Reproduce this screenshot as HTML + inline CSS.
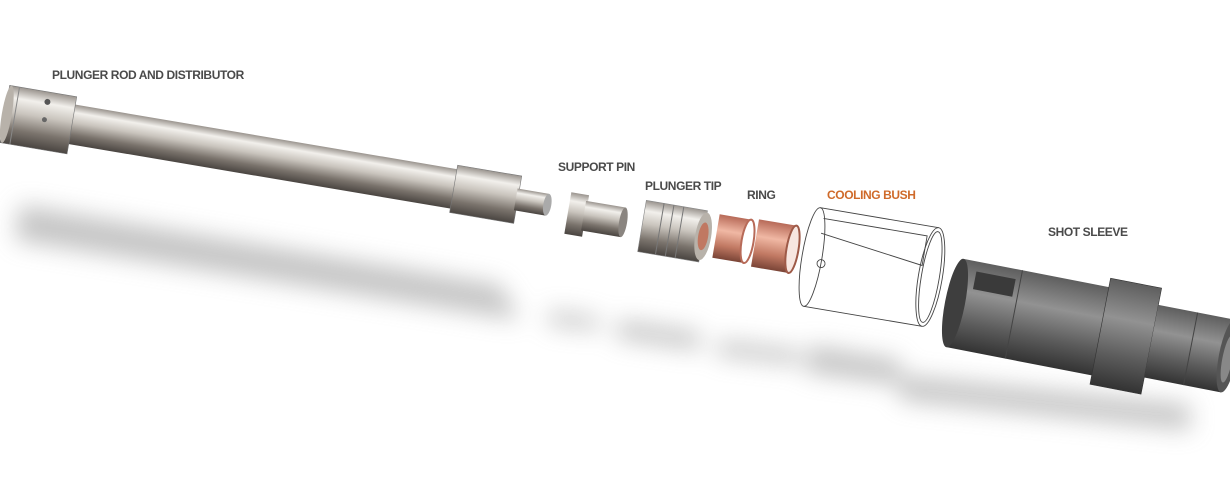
<!DOCTYPE html>
<html><head><meta charset="utf-8"><style>
html,body{margin:0;padding:0;background:#fff;}
svg{display:block}
text{font-family:"Liberation Sans",sans-serif;font-weight:bold;font-size:12px;fill:#4a4a4a;letter-spacing:-0.4px}
</style></head><body>
<svg width="1230" height="500" viewBox="0 0 1230 500" xmlns="http://www.w3.org/2000/svg">
<defs>
<filter id="bl" x="-20%" y="-300%" width="140%" height="700%"><feGaussianBlur stdDeviation="12"/></filter>
<linearGradient id="steel" x1="0" y1="0" x2="0" y2="1">
<stop offset="0" stop-color="#9a948e"/><stop offset="0.2" stop-color="#f2f0ec"/><stop offset="0.45" stop-color="#c9c4bd"/><stop offset="0.75" stop-color="#7a736c"/><stop offset="1" stop-color="#4a4541"/></linearGradient>
<linearGradient id="dark" x1="0" y1="0" x2="0" y2="1">
<stop offset="0" stop-color="#5e5e5e"/><stop offset="0.35" stop-color="#929292"/><stop offset="0.7" stop-color="#5c5c5c"/><stop offset="1" stop-color="#333"/></linearGradient>
<linearGradient id="cop" x1="0" y1="0" x2="0" y2="1">
<stop offset="0" stop-color="#b76a58"/><stop offset="0.35" stop-color="#f0b8a4"/><stop offset="0.7" stop-color="#c07862"/><stop offset="1" stop-color="#7a4436"/></linearGradient>
</defs>
<!-- shadows -->
<g filter="url(#bl)" fill="#a5a5a5" opacity="0.65">
<polygon points="20,205 500,285 520,320 15,240"/>
<polygon points="550,310 600,318 600,330 548,325"/>
<polygon points="620,320 700,332 700,350 615,338"/>
<polygon points="720,340 800,350 800,365 715,355"/>
<polygon points="810,345 900,360 900,385 805,372"/>
<polygon points="900,375 1190,405 1190,430 900,400"/>
</g>
<!-- plunger rod -->
<g transform="translate(5,113) rotate(9.6)">
<rect x="60" y="-20" width="400" height="40" fill="url(#steel)"/>
<rect x="455" y="-24" width="65" height="48" fill="url(#steel)" stroke="#777" stroke-width="0.6"/>
<rect x="518" y="-11" width="32" height="22" fill="url(#steel)"/>
<ellipse cx="550" cy="0" rx="4" ry="11" fill="#aaa"/>
<rect x="0" y="-28" width="68" height="58" fill="url(#steel)" stroke="#777" stroke-width="0.6"/>
<line x1="10" y1="-28" x2="10" y2="30" stroke="#888"/>
<ellipse cx="2" cy="1" rx="5" ry="29" fill="#b8b2aa"/>
<circle cx="40" cy="-18" r="3" fill="#555"/><circle cx="40" cy="0" r="2.5" fill="#666"/>
</g>
<!-- support pin -->
<g transform="translate(568,212) rotate(9.6)">
<rect x="0" y="-20" width="18" height="42" fill="url(#steel)"/>
<rect x="16" y="-14" width="40" height="30" fill="url(#steel)"/>
<ellipse cx="56" cy="1" rx="4" ry="15" fill="#8a8580"/>
</g>
<!-- plunger tip -->
<g transform="translate(642,226) rotate(9.6)">
<rect x="0" y="-26" width="62" height="52" fill="url(#steel)" stroke="#888" stroke-width="0.6"/>
<line x1="18" y1="-26" x2="18" y2="26" stroke="#777"/><line x1="28" y1="-26" x2="28" y2="26" stroke="#777"/><line x1="38" y1="-26" x2="38" y2="26" stroke="#777"/>
<ellipse cx="62" cy="0" rx="8" ry="24" fill="#b8b2aa"/><ellipse cx="62" cy="0" rx="5" ry="14" fill="#c07862"/>
</g>
<!-- rings -->
<g transform="translate(716,236) rotate(9.6)">
<rect x="0" y="-22" width="32" height="44" fill="url(#cop)"/>
<ellipse cx="32" cy="0" rx="6" ry="22" fill="#fff" stroke="#b76a58" stroke-width="2"/>
</g>
<g transform="translate(755,243) rotate(9.6)">
<rect x="0" y="-24" width="38" height="48" fill="url(#cop)"/>
<ellipse cx="38" cy="0" rx="6" ry="24" fill="#f7e6e0" stroke="#9e5a48" stroke-width="2"/>
</g>
<!-- cooling bush -->
<g transform="translate(812,257) rotate(9.6)" fill="none" stroke="#444" stroke-width="0.9">
<ellipse cx="0" cy="0" rx="10" ry="50" fill="#fff"/>
<line x1="0" y1="-50" x2="120" y2="-50"/><line x1="0" y1="50" x2="120" y2="50"/>
<ellipse cx="120" cy="0" rx="12" ry="50" fill="#fff"/><ellipse cx="120" cy="0" rx="9" ry="46"/>
<polyline points="5,-40 110,-40 110,-10 5,-25"/>
<circle cx="10" cy="5" r="4"/>
</g>
<!-- shot sleeve -->
<g transform="translate(955,303) rotate(11)">
<rect x="0" y="-45" width="150" height="90" fill="url(#dark)"/>
<rect x="148" y="-54" width="52" height="108" fill="url(#dark)" stroke="#333" stroke-width="0.6"/>
<rect x="200" y="-37" width="78" height="74" fill="url(#dark)"/>
<line x1="60" y1="-45" x2="60" y2="45" stroke="#444"/>
<line x1="240" y1="-37" x2="240" y2="37" stroke="#444"/>
<rect x="15" y="-35" width="40" height="18" fill="#3a3a3a"/>
<ellipse cx="0" cy="0" rx="10" ry="45" fill="#3e3e3e"/>
<ellipse cx="278" cy="0" rx="9" ry="37" fill="#555"/><ellipse cx="278" cy="3" rx="5" ry="24" fill="#888"/>
</g>
<!-- labels -->
<text x="52" y="79">PLUNGER ROD AND DISTRIBUTOR</text>
<text x="558" y="171">SUPPORT PIN</text>
<text x="645" y="190">PLUNGER TIP</text>
<text x="747" y="199">RING</text>
<text x="827" y="199" style="fill:#cf6a2a">COOLING BUSH</text>
<text x="1048" y="236">SHOT SLEEVE</text>
</svg>
</body></html>
